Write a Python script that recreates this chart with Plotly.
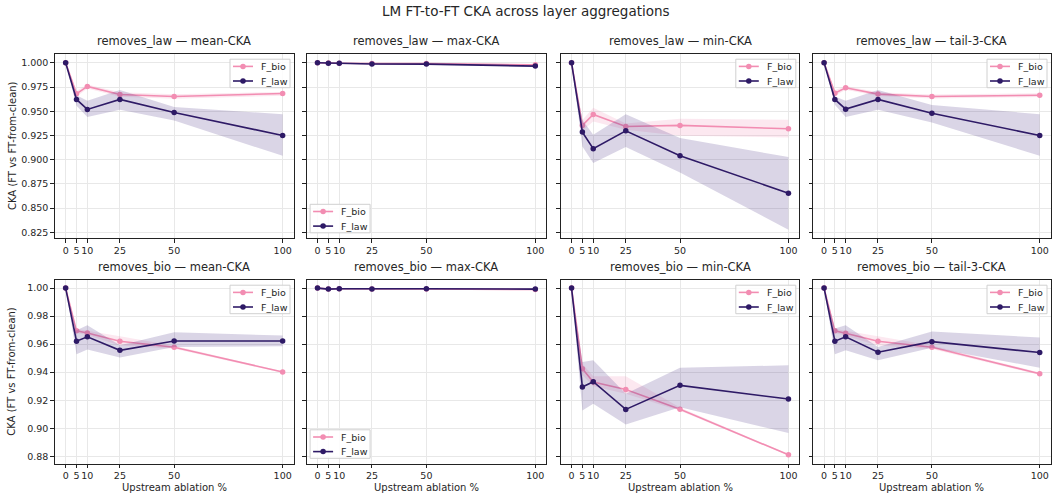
import plotly.graph_objects as go

# ---------------- data ----------------
x_pct = [0, 5, 10, 25, 50, 100]
x_ticklabels = ["0", "5", "10", "25", "50", "100"]
series_names = ["F_bio", "F_law"]
row_names = ["removes_law", "removes_bio"]
agg_names = ["mean-CKA", "max-CKA", "min-CKA", "tail-3-CKA"]

# removes_law — mean
rl_mean_bio = [1.0, 0.968, 0.9756, 0.9673, 0.9653, 0.9684]
rl_mean_bio_lo = [1.0, 0.965, 0.9735, 0.965, 0.963, 0.966]
rl_mean_bio_hi = [1.0, 0.971, 0.9775, 0.9695, 0.9675, 0.970]
rl_mean_law = [1.0, 0.9622, 0.9519, 0.9622, 0.9488, 0.925]
rl_mean_law_lo = [1.0, 0.9556, 0.944, 0.9515, 0.9405, 0.904]
rl_mean_law_hi = [1.0, 0.9665, 0.9608, 0.972, 0.9545, 0.947]
# removes_law — max
rl_max_bio = [1.0, 0.9997, 0.9996, 0.9993, 0.9992, 0.998]
rl_max_bio_lo = [1.0, 0.9993, 0.9992, 0.9989, 0.9988, 0.9975]
rl_max_bio_hi = [1.0, 1.0, 0.9999, 0.9997, 0.9996, 0.9985]
rl_max_law = [1.0, 0.9995, 0.9995, 0.9988, 0.9987, 0.9966]
rl_max_law_lo = [1.0, 0.9991, 0.9991, 0.9982, 0.9981, 0.9958]
rl_max_law_hi = [1.0, 0.9999, 0.9999, 0.9994, 0.9993, 0.9974]
# removes_law — min
rl_min_bio = [1.0, 0.9354, 0.9467, 0.9343, 0.9354, 0.9319]
rl_min_bio_lo = [1.0, 0.930, 0.9395, 0.931, 0.9247, 0.923]
rl_min_bio_hi = [1.0, 0.941, 0.9536, 0.9375, 0.9422, 0.9412]
rl_min_law = [1.0, 0.9285, 0.9113, 0.9298, 0.904, 0.8655]
rl_min_law_lo = [1.0, 0.9137, 0.8965, 0.913, 0.8869, 0.8277]
rl_min_law_hi = [1.0, 0.941, 0.9257, 0.947, 0.9223, 0.9027]
# removes_law — tail-3
rl_tail_bio = [1.0, 0.9687, 0.9742, 0.9677, 0.9653, 0.9666]
rl_tail_bio_lo = [1.0, 0.9657, 0.9722, 0.9657, 0.9633, 0.9646]
rl_tail_bio_hi = [1.0, 0.9717, 0.9762, 0.9697, 0.9673, 0.9686]
rl_tail_law = [1.0, 0.9622, 0.9522, 0.9622, 0.948, 0.925]
rl_tail_law_lo = [1.0, 0.9567, 0.944, 0.9515, 0.9385, 0.904]
rl_tail_law_hi = [1.0, 0.9653, 0.9608, 0.972, 0.9565, 0.947]

# removes_bio — mean
rb_mean_bio = [1.0, 0.9695, 0.968, 0.9621, 0.9578, 0.9401]
rb_mean_bio_lo = [1.0, 0.968, 0.9665, 0.959, 0.9568, 0.9395]
rb_mean_bio_hi = [1.0, 0.971, 0.9695, 0.9656, 0.9588, 0.9407]
rb_mean_law = [1.0, 0.9621, 0.9652, 0.9556, 0.9623, 0.9623]
rb_mean_law_lo = [1.0, 0.9528, 0.9561, 0.9504, 0.958, 0.9585]
rb_mean_law_hi = [1.0, 0.970, 0.9735, 0.9592, 0.9685, 0.9661]
# removes_bio — max
rb_max_bio = [1.0, 0.9994, 0.9995, 0.9993, 0.9994, 0.999]
rb_max_bio_lo = [1.0, 0.999, 0.9991, 0.9989, 0.999, 0.9986]
rb_max_bio_hi = [1.0, 0.9998, 0.9999, 0.9997, 0.9998, 0.9994]
rb_max_law = [1.0, 0.9993, 0.9995, 0.9993, 0.9995, 0.9993]
rb_max_law_lo = [1.0, 0.9989, 0.9991, 0.9989, 0.9991, 0.9989]
rb_max_law_hi = [1.0, 0.9997, 0.9999, 0.9997, 0.9999, 0.9997]
# removes_bio — min
rb_min_bio = [1.0, 0.9425, 0.933, 0.9277, 0.9136, 0.881]
rb_min_bio_lo = [1.0, 0.938, 0.930, 0.9246, 0.9125, 0.8805]
rb_min_bio_hi = [1.0, 0.946, 0.937, 0.937, 0.9147, 0.8815]
rb_min_law = [1.0, 0.9294, 0.9332, 0.9134, 0.9306, 0.9208]
rb_min_law_lo = [1.0, 0.9127, 0.9175, 0.9027, 0.915, 0.8965]
rb_min_law_hi = [1.0, 0.9473, 0.9485, 0.9246, 0.9432, 0.9449]
# removes_bio — tail-3
rb_tail_bio = [1.0, 0.9695, 0.9678, 0.9621, 0.9578, 0.9389]
rb_tail_bio_lo = [1.0, 0.968, 0.966, 0.959, 0.9565, 0.938]
rb_tail_bio_hi = [1.0, 0.971, 0.9695, 0.9656, 0.959, 0.9398]
rb_tail_law = [1.0, 0.9621, 0.9652, 0.9542, 0.9618, 0.954]
rb_tail_law_lo = [1.0, 0.9528, 0.9556, 0.9485, 0.9575, 0.9432]
rb_tail_law_hi = [1.0, 0.9711, 0.9735, 0.958, 0.969, 0.9647]

panels = [
    [(rl_mean_bio, rl_mean_bio_lo, rl_mean_bio_hi), (rl_mean_law, rl_mean_law_lo, rl_mean_law_hi)],
    [(rl_max_bio, rl_max_bio_lo, rl_max_bio_hi), (rl_max_law, rl_max_law_lo, rl_max_law_hi)],
    [(rl_min_bio, rl_min_bio_lo, rl_min_bio_hi), (rl_min_law, rl_min_law_lo, rl_min_law_hi)],
    [(rl_tail_bio, rl_tail_bio_lo, rl_tail_bio_hi), (rl_tail_law, rl_tail_law_lo, rl_tail_law_hi)],
    [(rb_mean_bio, rb_mean_bio_lo, rb_mean_bio_hi), (rb_mean_law, rb_mean_law_lo, rb_mean_law_hi)],
    [(rb_max_bio, rb_max_bio_lo, rb_max_bio_hi), (rb_max_law, rb_max_law_lo, rb_max_law_hi)],
    [(rb_min_bio, rb_min_bio_lo, rb_min_bio_hi), (rb_min_law, rb_min_law_lo, rb_min_law_hi)],
    [(rb_tail_bio, rb_tail_bio_lo, rb_tail_bio_hi), (rb_tail_law, rb_tail_law_lo, rb_tail_law_hi)],
]

# ---------------- style ----------------
W, H = 1052, 496
FONT = "DejaVu Sans"
TXT = "#262626"
line_colors = {"F_bio": "#f28db2", "F_law": "#2e1a66"}
band_colors = {"F_bio": "rgba(242,141,178,0.2)", "F_law": "rgba(70,45,130,0.2)"}

x_dom_px = [(54.8, 293.5), (306.6, 546.2), (560.7, 799.3), (813.3, 1050.5)]
y_dom_px = [(54, 238), (280, 463.5)]
y_ranges = [(0.8192, 1.0091), (0.8748, 1.0058)]
y_dticks = [0.025, 0.02]
y_formats = [".3f", ".2f"]

LEG_W, LEG_H = 60, 28.5
LEG_PADX, LEG_PADY = 3.5, 5.2
LEG_ROWS = [7.2, 21.8]

fig = go.Figure()
layout = dict(
    width=W, height=H, autosize=False,
    margin=dict(l=0, r=0, t=0, b=0),
    paper_bgcolor="white", plot_bgcolor="white",
    font=dict(family=FONT, size=10, color=TXT),
    showlegend=False,
)
annotations = []
shapes = []

for i in range(8):
    r, c = divmod(i, 4)
    k = "" if i == 0 else str(i + 1)
    xref, yref = "x" + k, "y" + k
    for s, (mean, lo, hi) in zip(series_names, panels[i]):
        fig.add_trace(go.Scatter(
            x=x_pct + x_pct[::-1], y=hi + lo[::-1],
            fill="toself", fillcolor=band_colors[s], mode="none",
            line=dict(width=0), hoverinfo="skip", showlegend=False,
            xaxis=xref, yaxis=yref,
        ))
        fig.add_trace(go.Scatter(
            x=x_pct, y=mean, mode="lines+markers", name=s,
            line=dict(color=line_colors[s], width=1.6),
            marker=dict(color=line_colors[s], size=5.5),
            xaxis=xref, yaxis=yref, showlegend=False,
        ))
    x0, x1 = x_dom_px[c]
    y0, y1 = y_dom_px[r]
    common = dict(
        showgrid=True, gridcolor="#e8e8e8", gridwidth=0.8,
        showline=True, linecolor="#222", linewidth=1, mirror=True,
        ticks="outside", ticklen=3.5, tickcolor="#222", tickwidth=0.8,
        tickfont=dict(size=9.5, color=TXT), zeroline=False,
    )
    layout["xaxis" + k] = dict(
        domain=[x0 / W, x1 / W], anchor=yref, range=[-5, 105],
        tickmode="array", tickvals=x_pct, ticktext=x_ticklabels, tickangle=0,
        **common,
    )
    layout["yaxis" + k] = dict(
        domain=[1 - y1 / H, 1 - y0 / H], anchor=xref, range=list(y_ranges[r]),
        dtick=y_dticks[r], tick0=1.0, tickformat=y_formats[r],
        showticklabels=(c == 0), **common,
    )

    # manual legend (matplotlib-style compact box)
    if c == 1:
        bx, by = x0 + LEG_PADX, y1 - LEG_PADY - LEG_H
    else:
        bx, by = x1 - LEG_PADX - LEG_W, y0 + LEG_PADY
    ax_, ay_ = bx / W, 1 - by / H
    shapes.append(dict(
        type="rect", xref="paper", yref="paper", xsizemode="pixel", ysizemode="pixel",
        xanchor=ax_, yanchor=ay_, x0=0, x1=LEG_W, y0=0, y1=-LEG_H,
        line=dict(color="#d0d0d0", width=1), fillcolor="rgba(255,255,255,0.85)",
        layer="above",
    ))
    for j, s in enumerate(series_names):
        ry = LEG_ROWS[j]
        shapes.append(dict(
            type="line", xref="paper", yref="paper", xsizemode="pixel", ysizemode="pixel",
            xanchor=ax_, yanchor=ay_, x0=3, x1=23, y0=-ry, y1=-ry,
            line=dict(color=line_colors[s], width=1.6), layer="above",
        ))
        shapes.append(dict(
            type="circle", xref="paper", yref="paper", xsizemode="pixel", ysizemode="pixel",
            xanchor=ax_, yanchor=ay_, x0=13 - 2.75, x1=13 + 2.75, y0=-ry - 2.75, y1=-ry + 2.75,
            line=dict(color=line_colors[s], width=0), fillcolor=line_colors[s], layer="above",
        ))
        annotations.append(dict(
            text=s, x=(bx + 29) / W, y=1 - (by + ry) / H, xref="paper", yref="paper",
            xanchor="left", yanchor="middle", showarrow=False,
            font=dict(size=9.5, color=TXT, family=FONT),
        ))

    # subplot title
    annotations.append(dict(
        text=f"{row_names[r]} — {agg_names[c]}", x=(x0 + x1) / 2 / W,
        y=1 - (y0 - 4) / H, xref="paper", yref="paper",
        xanchor="center", yanchor="bottom", showarrow=False,
        font=dict(size=11.5, color=TXT, family=FONT),
    ))
    if c == 0:
        annotations.append(dict(
            text="CKA (FT vs FT-from-clean)", x=12 / W, y=1 - (y0 + y1) / 2 / H,
            xref="paper", yref="paper", xanchor="center", yanchor="middle",
            textangle=-90, showarrow=False, font=dict(size=10, color=TXT, family=FONT),
        ))
    if r == 1:
        annotations.append(dict(
            text="Upstream ablation %", x=(x0 + x1) / 2 / W, y=1 - 487 / H,
            xref="paper", yref="paper", xanchor="center", yanchor="middle",
            showarrow=False, font=dict(size=10, color=TXT, family=FONT),
        ))

annotations.append(dict(
    text="LM FT-to-FT CKA across layer aggregations", x=0.5, y=1 - 11 / H,
    xref="paper", yref="paper", xanchor="center", yanchor="middle",
    showarrow=False, font=dict(size=13.5, color=TXT, family=FONT),
))
layout["annotations"] = annotations
layout["shapes"] = shapes
fig.update_layout(**layout)
fig.write_html("out.html")
